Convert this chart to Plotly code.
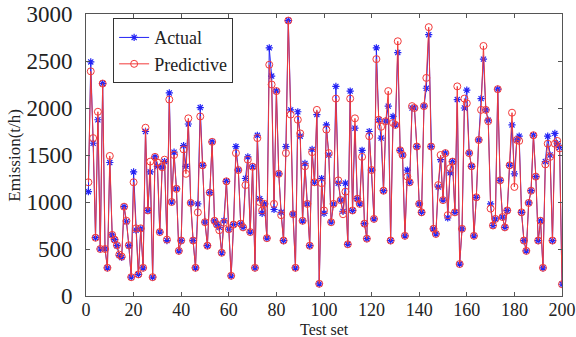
import plotly.graph_objects as go

test_index = list(range(1, 201))

actual = [
    1110, 2490, 1625, 620, 1875, 500, 2260, 500, 300, 1420,
    650, 600, 535, 430, 410, 950, 790, 535, 200, 1320,
    700, 230, 715, 300, 1750, 910, 1320, 200, 1480, 1380,
    680, 1370, 1430, 590, 2160, 1000, 1530, 1140, 480, 590,
    1600, 1380, 1830, 990, 590, 300, 980, 2005, 1390, 785,
    535, 1100, 1640, 800, 760, 730, 460, 800, 1220, 710,
    215, 760, 1590, 1340, 770, 730, 1250, 1480, 680, 1375,
    300, 1710, 1035, 880, 980, 615, 2640, 2340, 920, 2180,
    1300, 890, 590, 1590, 2930, 1980, 870, 300, 1960, 1700,
    800, 1410, 980, 535, 1560, 1210, 1930, 130, 1250, 880,
    1820, 1500, 785, 980, 2230, 1200, 1020, 900, 1200, 550,
    2180, 910, 1785, 1035, 980, 1550, 770, 610, 1750, 1340,
    820, 2640, 1875, 1680, 1120, 1860, 2020, 590, 1910, 1820,
    2590, 1550, 1500, 640, 1340, 1210, 2000, 2000, 1590, 980,
    890, 2020, 2210, 2780, 1590, 715, 660, 1160, 1450, 1020,
    1520, 830, 1310, 1430, 890, 2090, 340, 715, 2000, 2190,
    1520, 1380, 640, 1050, 1660, 2100, 2520, 1980, 1870, 980,
    750, 820, 2200, 1230, 840, 730, 910, 1390, 1820, 1300,
    1660, 1700, 890, 590, 480, 990, 1120, 1710, 1270, 590,
    800, 300, 1430, 1700, 1500, 590, 1730, 1620, 1580, 125,
]

predictive = [
    1210, 2390, 1680, 620, 1960, 500, 2260, 500, 300, 1490,
    650, 600, 540, 440, 420, 950, 800, 540, 200, 1210,
    720, 230, 720, 300, 1790, 910, 1430, 200, 1480, 1420,
    680, 1370, 1450, 600, 2090, 1000, 1500, 1140, 480, 590,
    1560, 1300, 1890, 990, 590, 300, 890, 1910, 1390, 785,
    535, 1100, 1640, 800, 760, 700, 460, 780, 1220, 710,
    215, 760, 1520, 1340, 770, 730, 1180, 1450, 680, 1375,
    300, 1680, 1000, 910, 980, 615, 2460, 2250, 980, 2180,
    1300, 860, 590, 1520, 2930, 1930, 870, 300, 1875, 1730,
    800, 1380, 980, 535, 1530, 1210, 1980, 130, 1200, 910,
    1770, 1520, 785, 980, 2100, 1230, 1020, 870, 1110, 550,
    2100, 910, 1890, 1035, 980, 1480, 770, 610, 1700, 1340,
    820, 2520, 1875, 1800, 1120, 1860, 2180, 590, 1840, 1820,
    2710, 1550, 1500, 640, 1270, 1210, 2020, 2000, 1590, 980,
    890, 2020, 2320, 2860, 1590, 715, 660, 1180, 1500, 1020,
    1520, 860, 1360, 1430, 890, 2230, 340, 715, 2100, 2050,
    1520, 1380, 640, 1050, 1660, 1980, 2660, 1980, 1860, 930,
    750, 820, 2200, 1230, 840, 730, 910, 1390, 1950, 1160,
    1660, 1650, 890, 590, 480, 990, 1120, 1710, 1270, 590,
    800, 300, 1400, 1620, 1480, 590, 1620, 1650, 1570, 125,
]

x_ticks = [0, 20, 40, 60, 80, 100, 120, 140, 160, 180, 200]
y_ticks = [0, 500, 1000, 1500, 2000, 2500, 3000]

BLUE = "#2323f5"
RED = "#f23a3a"
FONT = "Liberation Serif"
TXT = "#222222"

fig = go.Figure()
fig.add_trace(go.Scatter(
    x=test_index, y=actual, name="Actual", mode="lines+markers",
    line=dict(color=BLUE, width=1),
    marker=dict(symbol="asterisk-open", size=6, color=BLUE, line=dict(color=BLUE, width=1.2)),
))
fig.add_trace(go.Scatter(
    x=test_index, y=predictive, name="Predictive", mode="lines+markers",
    line=dict(color=RED, width=1),
    marker=dict(symbol="circle-open", size=7, color=RED, line=dict(color=RED, width=1)),
))

axis_common = dict(
    showline=True, linecolor="#555555", linewidth=1, mirror="ticks",
    ticks="inside", ticklen=4, tickcolor="#555555", showgrid=False, zeroline=False,
    ticklabeloverflow="allow", automargin=False,
)
fig.update_xaxes(range=[0, 200], tickvals=x_ticks,
                 tickfont=dict(family=FONT, size=18, color=TXT),
                 ticklabelstandoff=-3,
                 **axis_common)
fig.update_yaxes(range=[0, 3000], tickvals=y_ticks,
                 tickfont=dict(family=FONT, size=23, color=TXT),
                 ticklabelstandoff=8,
                 **axis_common)

fig.add_annotation(text="Test set", xref="paper", yref="paper", x=0.5, y=-0.118,
                   xanchor="center", yanchor="middle", showarrow=False,
                   font=dict(family=FONT, size=16, color=TXT))
fig.add_annotation(text="Emission(t/h)", xref="paper", yref="paper", x=-0.152, y=0.5,
                   xanchor="center", yanchor="middle", textangle=-90, showarrow=False,
                   font=dict(family=FONT, size=17, color=TXT))

fig.update_layout(
    width=576, height=337,
    margin=dict(l=86, r=14, t=14, b=41),
    paper_bgcolor="white", plot_bgcolor="white",
    font=dict(family=FONT, color=TXT),
    legend=dict(x=0.057, y=0.985, xanchor="left", yanchor="top",
                bgcolor="white", bordercolor="#333333", borderwidth=1,
                font=dict(family=FONT, size=18, color=TXT),
                itemwidth=30, tracegroupgap=0),
    showlegend=True,
)

fig.write_html("out.html", config={"displayModeBar": False},
               post_script="document.body.style.margin='0';document.body.style.overflow='hidden';")
